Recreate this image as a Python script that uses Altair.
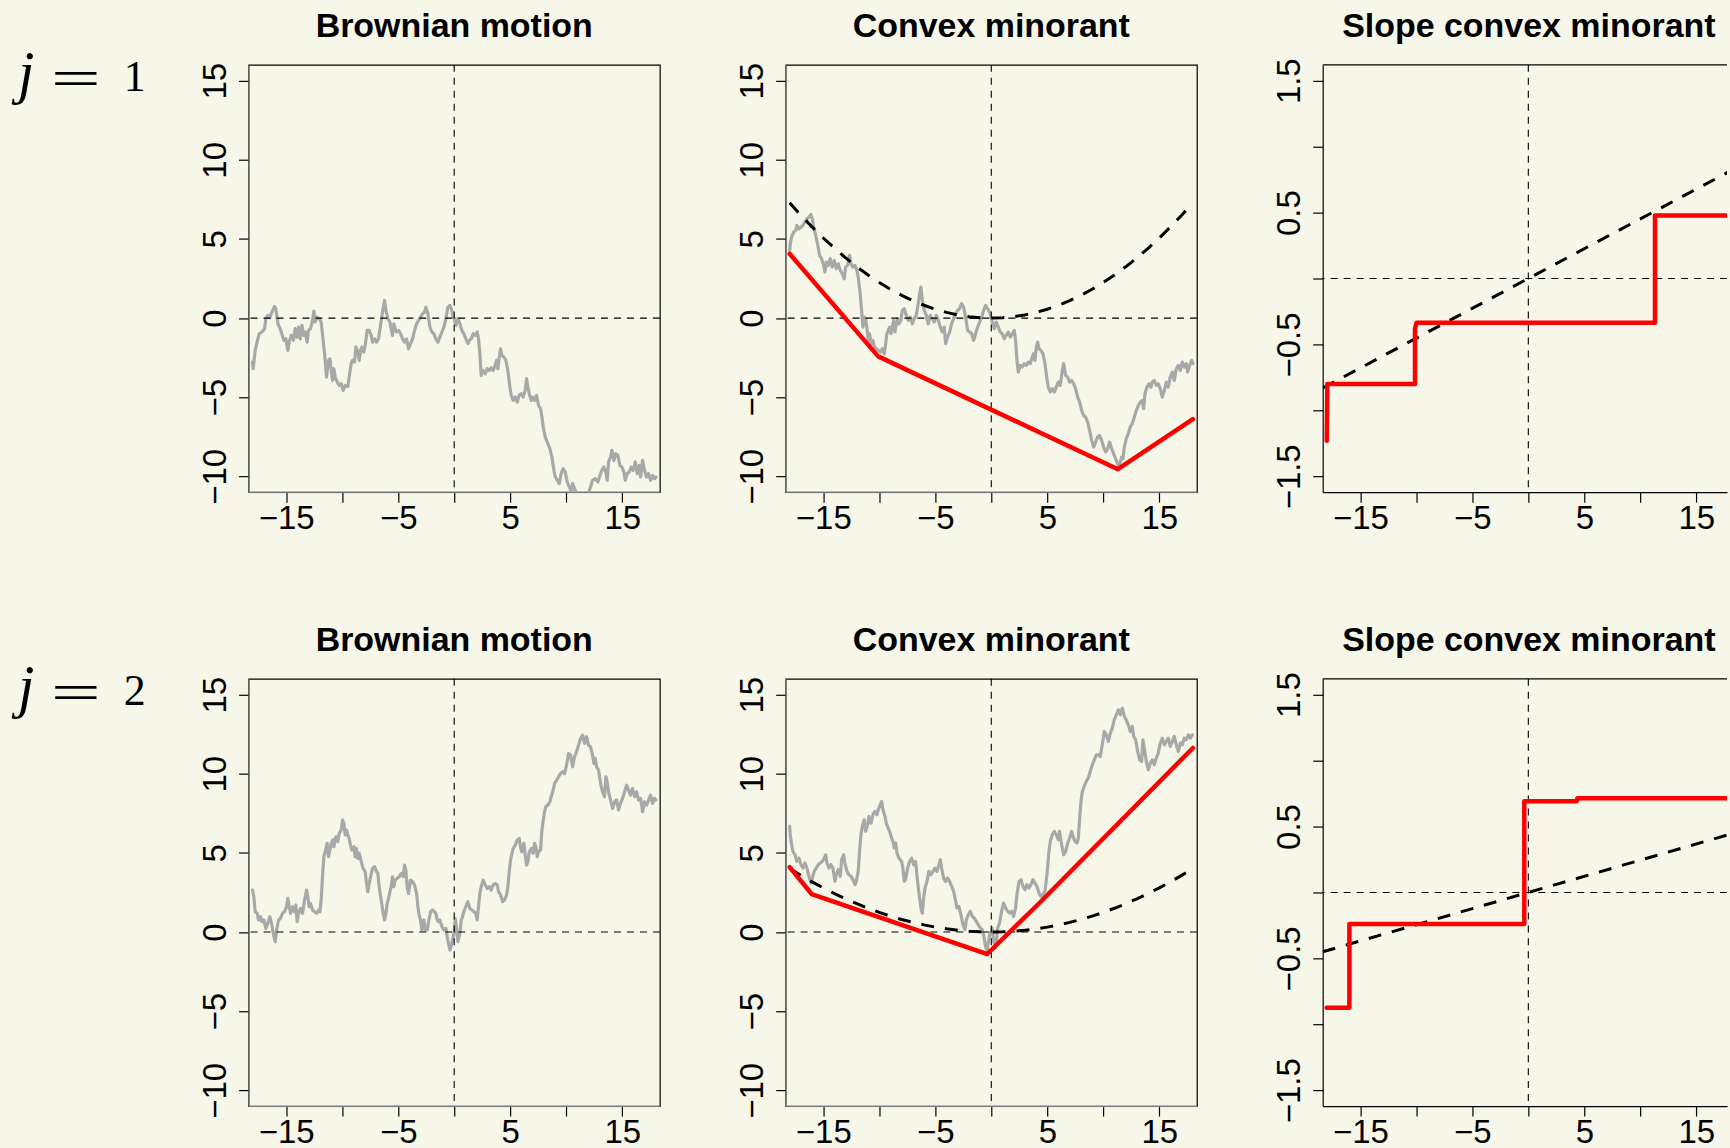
import altair as alt
import pandas as pd

# ---------------------------------------------------------------------------
# Sample path j = 1: two-sided Brownian motion W(t)
bm1_t = [-18.01,-17.95,-17.77,-17.53,-17.41,-17.17,-16.93,-16.82,-16.64,-16.46,-16.28,-16.04,-15.92,-15.74,-15.54,-15.39,-15.21,-15.03,-14.85,-14.73,-14.55,-14.35,-14.20,-14.02,-13.90,-13.75,-13.60,-13.42,-13.30,-13.13,-13.01,-12.83,-12.65,-12.53,-12.41,-12.26,-12.05,-11.88,-11.70,-11.52,-11.40,-11.22,-11.10,-10.98,-10.86,-10.74,-10.63,-10.45,-10.27,-10.09,-9.91,-9.73,-9.49,-9.38,-9.20,-9.08,-8.90,-8.78,-8.60,-8.48,-8.36,-8.24,-8.07,-7.95,-7.77,-7.59,-7.41,-7.29,-7.11,-6.93,-6.76,-6.58,-6.40,-6.22,-6.10,-5.92,-5.74,-5.63,-5.51,-5.39,-5.27,-5.15,-4.97,-4.79,-4.61,-4.43,-4.26,-4.08,-3.90,-3.72,-3.54,-3.36,-3.18,-3.01,-2.83,-2.65,-2.53,-2.35,-2.17,-1.99,-1.82,-1.64,-1.46,-1.28,-1.10,-0.92,-0.74,-0.57,-0.39,-0.21,-0.09,0.00,0.15,0.33,0.51,0.68,0.86,1.04,1.22,1.34,1.52,1.70,1.88,2.05,2.17,2.29,2.41,2.59,2.77,2.95,3.13,3.30,3.48,3.66,3.78,3.90,4.02,4.14,4.26,4.43,4.61,4.79,4.97,5.09,5.27,5.45,5.63,5.80,5.98,6.16,6.34,6.46,6.58,6.70,6.88,6.99,7.17,7.35,7.53,7.71,7.83,7.95,8.13,8.36,8.54,8.72,8.90,9.02,9.20,9.38,9.55,9.73,9.91,10.09,10.27,10.45,10.57,10.74,10.92,11.10,11.40,11.70,11.99,12.17,12.35,12.59,12.83,13.01,13.18,13.36,13.54,13.66,13.78,13.96,14.08,14.26,14.43,14.61,14.79,14.97,15.15,15.27,15.45,15.63,15.80,15.98,16.16,16.34,16.52,16.64,16.82,16.99,17.17,17.35,17.53,17.71,17.89,18.01]
bm1_w = [-2.78,-3.20,-2.04,-1.31,-0.99,-0.88,-0.67,-0.04,0.17,0.02,0.38,0.74,0.59,-0.36,-0.67,-0.99,-1.41,-1.31,-2.04,-1.52,-1.09,-1.41,-0.67,-1.20,-0.57,-1.31,-0.46,-1.09,-0.88,-1.52,-0.78,-0.67,-0.15,0.44,-0.25,0.06,-0.04,-0.25,-1.41,-2.67,-3.73,-2.67,-2.57,-3.31,-3.94,-3.20,-3.73,-4.04,-4.25,-4.15,-4.57,-4.25,-4.32,-3.73,-2.88,-2.67,-2.78,-1.83,-2.15,-2.67,-2.04,-1.83,-2.15,-1.73,-0.78,-0.78,-1.09,-1.52,-1.31,-1.52,-1.31,-0.46,0.38,1.12,0.48,-0.04,-0.25,-0.67,-1.09,-0.36,-0.67,-0.88,-0.78,-0.99,-1.31,-1.52,-1.31,-1.94,-1.62,-1.31,-0.78,-0.36,-0.15,0.06,0.27,0.38,0.69,0.27,-0.57,-0.88,-0.99,-1.31,-1.52,-1.20,-0.88,-0.57,-0.04,0.69,0.80,0.48,0.06,0.00,-0.46,-0.04,-0.36,-0.78,-0.99,-1.31,-1.62,-1.41,-1.31,-0.99,-1.09,-0.88,-1.31,-2.25,-3.62,-3.31,-3.52,-3.20,-3.31,-3.14,-3.31,-2.99,-2.67,-3.20,-2.46,-1.94,-2.36,-2.46,-2.67,-3.31,-4.36,-4.88,-5.20,-4.99,-5.31,-4.88,-4.78,-4.99,-4.57,-3.83,-4.36,-4.78,-5.20,-4.99,-5.20,-4.88,-5.52,-5.73,-6.25,-6.88,-7.52,-7.94,-8.25,-8.78,-9.62,-10.04,-10.25,-10.46,-9.83,-9.52,-9.73,-10.36,-10.67,-10.99,-10.46,-10.78,-11.09,-11.41,-11.52,-11.31,-11.09,-10.67,-10.25,-10.15,-10.36,-9.94,-9.62,-9.41,-9.73,-10.25,-9.09,-8.78,-8.36,-8.99,-8.57,-8.67,-9.31,-9.41,-9.73,-10.25,-9.83,-9.73,-9.41,-9.62,-9.09,-9.83,-9.31,-10.04,-8.99,-9.62,-10.04,-9.83,-10.25,-9.94,-10.15,-10.04]

# Same path with the parabolic drift added
cm1_t = [-18.00,-17.95,-17.83,-17.65,-17.47,-17.35,-17.17,-16.99,-16.82,-16.64,-16.46,-16.28,-16.10,-15.98,-15.86,-15.68,-15.51,-15.33,-15.15,-14.97,-14.85,-14.73,-14.55,-14.38,-14.20,-14.02,-13.84,-13.66,-13.48,-13.30,-13.13,-13.01,-12.83,-12.65,-12.53,-12.35,-12.17,-11.99,-11.88,-11.70,-11.58,-11.46,-11.34,-11.22,-11.10,-10.98,-10.86,-10.74,-10.57,-10.45,-10.27,-10.09,-9.91,-9.73,-9.55,-9.43,-9.32,-9.20,-9.08,-8.96,-8.84,-8.72,-8.60,-8.48,-8.36,-8.24,-8.07,-7.95,-7.77,-7.59,-7.41,-7.23,-7.05,-6.88,-6.70,-6.52,-6.40,-6.28,-6.16,-5.98,-5.80,-5.63,-5.45,-5.27,-5.09,-4.91,-4.73,-4.55,-4.38,-4.20,-4.08,-3.90,-3.72,-3.54,-3.36,-3.18,-3.01,-2.83,-2.65,-2.47,-2.29,-2.11,-1.93,-1.76,-1.58,-1.40,-1.22,-1.04,-0.86,-0.68,-0.51,-0.33,-0.15,0.00,0.09,0.27,0.45,0.63,0.80,0.98,1.16,1.34,1.52,1.70,1.88,2.05,2.17,2.29,2.41,2.59,2.77,2.95,3.13,3.30,3.48,3.66,3.78,3.90,4.02,4.14,4.26,4.43,4.61,4.79,4.97,5.09,5.27,5.45,5.63,5.80,5.98,6.16,6.34,6.46,6.64,6.82,6.99,7.17,7.35,7.53,7.71,7.89,8.07,8.24,8.42,8.60,8.78,8.96,9.14,9.32,9.49,9.67,9.85,10.03,10.21,10.39,10.57,10.74,10.92,11.10,11.28,11.40,11.52,11.64,11.76,11.88,12.05,12.23,12.41,12.59,12.77,12.95,13.13,13.30,13.48,13.60,13.72,13.90,14.08,14.26,14.38,14.55,14.73,14.91,15.09,15.27,15.45,15.63,15.80,15.98,16.16,16.34,16.52,16.70,16.88,17.05,17.23,17.41,17.53,17.71,17.89,18.01]
cm1_w = [4.27,4.69,5.12,5.43,5.54,5.85,5.64,5.75,5.85,6.06,6.27,6.38,6.55,6.27,5.75,5.22,4.69,3.96,3.75,3.33,2.91,3.54,3.33,3.75,3.22,3.64,3.12,3.43,3.01,2.80,2.48,3.22,3.33,3.96,3.43,3.22,3.33,3.01,2.59,1.54,0.48,-0.57,0.06,-0.04,-0.67,-1.41,-0.99,-1.62,-1.41,-1.83,-1.94,-2.04,-2.15,-1.94,-2.25,-1.62,-0.99,-0.78,-0.57,-0.99,-0.57,-0.15,-0.88,-0.36,-0.04,-0.36,-0.15,0.48,0.59,0.17,-0.15,0.06,-0.36,-0.04,0.17,0.91,1.54,1.96,1.12,0.48,0.17,-0.36,0.17,-0.04,-0.25,0.17,-0.15,-0.57,-0.88,-0.57,-1.62,-1.20,-0.88,-0.36,-0.04,0.27,0.48,0.59,0.91,0.69,0.06,-0.78,-0.88,-0.99,-1.41,-0.99,-0.57,-0.25,0.06,0.48,0.80,0.59,0.38,0.00,-0.25,-0.67,-0.25,-0.57,-0.88,-0.99,-1.31,-1.09,-0.88,-1.20,-0.99,-0.78,-1.41,-2.67,-3.41,-2.99,-3.09,-2.88,-2.99,-2.78,-2.88,-2.46,-2.25,-2.67,-1.83,-1.52,-1.94,-2.04,-2.25,-2.88,-3.83,-4.36,-4.67,-4.46,-4.67,-4.36,-4.04,-4.25,-3.31,-2.88,-3.62,-3.73,-4.04,-3.94,-4.15,-4.46,-4.99,-5.31,-5.83,-6.15,-6.25,-6.57,-7.09,-7.73,-8.15,-7.83,-7.52,-7.41,-7.73,-8.15,-8.46,-8.25,-7.83,-8.25,-8.57,-8.88,-9.20,-9.41,-9.09,-8.78,-8.88,-8.15,-7.62,-7.31,-6.88,-6.67,-6.25,-5.83,-5.52,-5.31,-5.20,-5.73,-4.78,-4.36,-4.15,-4.36,-4.04,-3.94,-4.25,-4.15,-4.46,-4.99,-4.57,-4.04,-4.36,-3.73,-3.41,-3.94,-3.20,-2.99,-3.31,-2.78,-3.09,-2.88,-3.41,-2.99,-2.67,-2.88]

# Convex minorant (knots) and its slope
hull1_t = [-18.0, -10.1, 11.3, 18.0]
hull1_y = [4.06, -2.42, -9.55, -6.38]
slope1_t = [-18.0, -17.95, -10.12, -10.12, -9.98, 11.31, 11.31, 18.0]
slope1_y = [-1.23, -0.80, -0.80, -0.38, -0.336, -0.336, 0.477, 0.477]

# ---------------------------------------------------------------------------
# Sample path j = 2
bm2_t = [-18.01,-17.89,-17.77,-17.59,-17.47,-17.29,-17.17,-16.99,-16.82,-16.64,-16.46,-16.28,-16.10,-15.98,-15.86,-15.68,-15.51,-15.33,-15.15,-14.97,-14.85,-14.73,-14.61,-14.43,-14.26,-14.14,-14.02,-13.90,-13.72,-13.54,-13.36,-13.18,-13.07,-12.95,-12.83,-12.65,-12.47,-12.29,-12.11,-11.99,-11.88,-11.76,-11.64,-11.52,-11.34,-11.22,-11.10,-10.98,-10.86,-10.74,-10.63,-10.51,-10.39,-10.27,-10.09,-9.97,-9.85,-9.73,-9.61,-9.49,-9.38,-9.26,-9.14,-8.96,-8.84,-8.72,-8.60,-8.48,-8.30,-8.13,-7.95,-7.83,-7.71,-7.59,-7.47,-7.29,-7.11,-6.93,-6.82,-6.70,-6.52,-6.34,-6.22,-6.10,-5.98,-5.86,-5.74,-5.63,-5.51,-5.39,-5.27,-5.09,-4.91,-4.73,-4.55,-4.43,-4.32,-4.20,-4.08,-3.90,-3.72,-3.54,-3.36,-3.24,-3.13,-3.01,-2.89,-2.71,-2.59,-2.41,-2.29,-2.11,-1.93,-1.76,-1.64,-1.52,-1.40,-1.28,-1.10,-0.92,-0.74,-0.63,-0.51,-0.39,-0.27,-0.15,0.00,0.09,0.21,0.33,0.51,0.63,0.74,0.86,1.04,1.22,1.40,1.58,1.76,1.93,2.05,2.17,2.29,2.41,2.59,2.77,2.95,3.13,3.30,3.48,3.66,3.84,3.96,4.14,4.32,4.49,4.67,4.79,4.91,5.03,5.15,5.27,5.45,5.63,5.80,5.92,6.04,6.22,6.34,6.46,6.58,6.70,6.88,7.05,7.17,7.29,7.41,7.53,7.71,7.83,7.95,8.07,8.18,8.36,8.54,8.66,8.84,8.96,9.14,9.32,9.49,9.67,9.85,10.03,10.21,10.39,10.57,10.74,10.92,11.10,11.28,11.46,11.64,11.82,11.99,12.17,12.35,12.47,12.59,12.71,12.89,13.07,13.24,13.42,13.54,13.66,13.78,13.96,14.14,14.32,14.49,14.67,14.85,15.03,15.21,15.39,15.57,15.74,15.92,16.10,16.28,16.46,16.64,16.82,16.99,17.17,17.35,17.53,17.71,17.89,18.01]
bm2_w = [2.65,2.23,1.28,1.18,0.76,0.97,0.65,0.76,0.23,0.55,0.97,0.44,-0.29,-0.61,0.13,0.76,0.86,1.18,1.28,1.60,2.13,1.60,1.18,1.60,1.28,1.71,0.65,1.18,1.49,1.18,2.02,2.65,2.23,1.60,1.81,1.39,1.28,1.18,1.39,1.28,2.02,3.49,4.76,5.07,5.60,4.76,5.18,5.60,5.81,5.39,5.92,6.02,5.71,6.23,6.44,7.07,6.86,6.13,6.44,6.13,5.92,5.49,5.18,5.39,4.76,5.28,4.65,4.97,4.44,4.02,3.81,3.07,2.55,3.07,3.49,4.02,4.13,3.81,3.71,2.86,2.02,1.18,0.76,1.18,1.81,2.13,2.55,2.86,3.49,2.86,3.28,3.39,3.49,3.71,3.49,4.23,3.92,2.86,2.44,3.28,3.18,2.97,2.44,1.60,1.07,0.76,0.13,0.76,0.13,0.13,0.65,1.28,1.39,1.28,1.18,0.76,0.65,0.76,0.34,0.13,0.23,-0.29,-0.72,-1.14,-0.93,-0.51,0.00,0.86,0.23,-0.61,-0.08,0.76,0.97,1.28,1.60,1.92,1.49,1.39,1.28,1.18,0.76,1.60,2.44,2.86,3.28,2.97,2.76,2.86,2.65,2.97,3.07,2.97,2.55,2.34,1.92,2.02,2.34,2.86,3.81,4.55,4.97,5.28,5.49,5.81,5.92,5.39,5.07,5.60,4.86,4.23,4.44,5.07,5.28,4.97,5.60,5.39,4.76,5.07,5.18,6.44,7.07,7.60,7.92,8.02,8.23,8.55,8.97,9.39,9.60,9.81,10.02,10.13,10.02,10.55,11.28,11.18,10.44,11.07,11.39,11.81,12.23,12.44,11.92,12.34,11.81,11.71,11.18,10.65,10.97,10.44,10.23,9.39,8.86,8.55,9.81,9.49,8.86,8.34,7.81,8.23,8.34,7.71,8.13,8.44,8.86,9.28,8.97,8.65,9.07,8.55,8.86,8.34,8.44,7.60,8.23,8.02,8.34,8.65,8.13,8.44,8.34]

cm2_t = [-18.00,-17.95,-17.83,-17.71,-17.53,-17.35,-17.17,-16.99,-16.82,-16.64,-16.46,-16.28,-16.10,-15.98,-15.80,-15.63,-15.45,-15.27,-15.09,-14.91,-14.79,-14.67,-14.49,-14.32,-14.14,-13.96,-13.84,-13.66,-13.48,-13.36,-13.18,-13.07,-12.89,-12.71,-12.53,-12.35,-12.17,-12.05,-11.88,-11.76,-11.64,-11.52,-11.34,-11.22,-11.04,-10.92,-10.74,-10.57,-10.39,-10.21,-10.09,-9.91,-9.79,-9.67,-9.49,-9.38,-9.20,-9.08,-8.90,-8.78,-8.66,-8.54,-8.42,-8.24,-8.01,-7.89,-7.77,-7.65,-7.47,-7.29,-7.11,-6.93,-6.76,-6.58,-6.40,-6.28,-6.16,-6.04,-5.92,-5.74,-5.57,-5.39,-5.21,-5.03,-4.85,-4.67,-4.55,-4.43,-4.26,-4.08,-3.90,-3.72,-3.54,-3.36,-3.18,-3.07,-2.89,-2.71,-2.53,-2.35,-2.23,-2.05,-1.88,-1.70,-1.52,-1.34,-1.16,-0.98,-0.80,-0.63,-0.51,-0.39,-0.27,-0.15,0.00,0.09,0.21,0.39,0.57,0.74,0.92,1.10,1.28,1.46,1.64,1.82,1.99,2.17,2.29,2.47,2.65,2.83,3.01,3.18,3.36,3.54,3.72,3.90,4.08,4.26,4.43,4.61,4.79,4.97,5.15,5.27,5.45,5.63,5.80,5.98,6.10,6.28,6.46,6.64,6.82,6.99,7.17,7.29,7.47,7.65,7.77,7.89,8.01,8.13,8.30,8.48,8.66,8.84,9.02,9.20,9.38,9.55,9.73,9.91,10.09,10.27,10.45,10.63,10.80,10.98,11.16,11.34,11.52,11.70,11.88,12.05,12.23,12.41,12.59,12.71,12.89,13.07,13.24,13.42,13.54,13.66,13.84,14.02,14.20,14.38,14.55,14.73,14.91,15.09,15.27,15.45,15.63,15.80,15.98,16.16,16.34,16.52,16.70,16.88,17.05,17.23,17.41,17.59,17.77,17.95]
cm2_w = [6.67,6.15,5.52,5.09,4.88,4.46,4.67,4.25,4.04,4.36,4.04,3.52,3.09,3.41,3.83,4.04,4.25,4.36,4.46,4.67,4.88,4.36,4.04,4.25,4.04,3.20,3.62,3.94,3.52,4.57,4.88,4.36,3.83,3.62,3.52,3.31,2.99,3.20,3.83,5.09,6.15,6.67,7.09,6.36,6.78,7.31,6.88,7.41,7.62,7.41,7.73,8.04,8.25,7.73,7.31,6.88,6.57,6.36,5.94,5.73,5.31,5.62,4.99,4.67,4.46,4.04,3.20,3.31,4.04,4.46,4.67,4.25,4.46,3.20,2.15,1.52,1.20,2.15,2.78,3.20,3.83,3.62,3.83,4.04,3.83,4.25,4.57,4.04,3.41,3.20,3.41,3.20,2.88,2.57,1.94,1.52,1.62,1.09,0.46,0.15,0.78,1.09,1.31,0.99,0.88,0.67,0.46,0.25,0.15,-0.38,-0.91,-1.22,-0.69,-0.17,0.00,0.25,-0.59,-1.01,0.25,0.57,1.31,1.83,1.52,1.31,1.20,1.31,0.99,1.52,2.36,3.20,3.31,2.88,2.67,2.99,2.78,2.99,3.31,3.09,2.88,2.46,2.25,2.36,2.57,3.62,5.09,5.73,6.15,6.36,6.15,5.83,6.36,5.52,4.88,5.09,5.62,5.94,6.36,6.04,5.73,5.62,5.94,7.20,8.25,8.88,9.20,9.52,9.73,10.15,10.57,10.88,11.20,11.20,11.09,11.83,12.67,12.46,12.04,12.57,12.88,13.41,13.73,14.04,13.73,14.15,13.62,13.41,13.09,12.67,12.99,12.36,12.15,11.41,10.88,10.78,12.15,11.62,10.78,10.25,10.67,10.88,10.57,10.99,11.31,11.94,12.25,11.83,12.04,12.25,11.73,12.04,12.36,11.83,11.41,11.94,11.83,12.25,12.15,12.46,12.25,12.46]

hull2_t = [-18.0, -16.04, -0.36, 4.32, 18.0]
hull2_y = [4.10, 2.40, -1.39, 1.85, 11.63]
slope2_t = [-18.0, -15.98, -15.98, -0.36, -0.36, 4.32, 4.38, 18.0]
slope2_y = [-0.874, -0.874, -0.239, -0.239, 0.692, 0.692, 0.715, 0.715]

# ---------------------------------------------------------------------------
# Drift parabolas (dashed) and their derivatives
drift_t = [-18,-17,-16,-15,-14,-13,-12,-11,-10,-9,-8,-7,-6,-5,-4,-3,-2,-1,0,1,2,3,4,5,6,7,8,9,10,11,12,13,14,15,16,17,18]
drift1 = [7.29,6.50,5.76,5.06,4.41,3.80,3.24,2.72,2.25,1.82,1.44,1.10,0.81,0.56,0.36,0.20,0.09,0.02,0.00,0.02,0.09,0.20,0.36,0.56,0.81,1.10,1.44,1.82,2.25,2.72,3.24,3.80,4.41,5.06,5.76,6.50,7.29]
drift2 = [4.02,3.58,3.17,2.79,2.43,2.10,1.79,1.50,1.24,1.00,0.79,0.61,0.45,0.31,0.20,0.11,0.05,0.01,0.00,0.01,0.05,0.11,0.20,0.31,0.45,0.61,0.79,1.00,1.24,1.50,1.79,2.10,2.43,2.79,3.17,3.58,4.02]
deriv_t = [-18.36, 18.36]
deriv1 = [-0.83, 0.83]
deriv2 = [-0.45, 0.45]

# Axis ticks and panel titles
x_ticks = [-15, -10, -5, 0, 5, 10, 15]
path_ticks = [-10, -5, 0, 5, 10, 15]
slope_ticks = [-1.5, -1.0, -0.5, 0.0, 0.5, 1.0, 1.5]
titles = ["Brownian motion", "Convex minorant", "Slope convex minorant"]
row_ids = ["1", "2"]

# ---------------------------------------------------------------------------
BG = "#F7F7E9"
SANS = "Liberation Sans"
SERIF = "Liberation Serif"
GRAY = "#A8A8A8"
RED = "#FF0000"

X_FULL = [-18.36, 18.36]
X_CUT = [-18.36, 17.74]
Y_PATH = [-11, 16]
Y_SLOPE = [-1.62, 1.62]
PW, PW3, PH = 412, 405, 428

TICK = dict(ticks=True, tickSize=10, tickColor="black", tickWidth=1.2, grid=False,
            labelFont=SANS, labelFontSize=33, labelColor="black",
            labelOverlap=False, labelFlush=False, title=None)


def x_axis(**extra):
    return alt.Axis(values=x_ticks, format="d",
                    labelExpr="datum.value % 10 == 0 ? '' : datum.label",
                    labelPadding=0, **TICK, **extra)


def y_axis(values, fmt, expr, **extra):
    return alt.Axis(values=values, format=fmt, labelExpr=expr, labelAngle=270,
                    labelAlign="center", labelBaseline="alphabetic",
                    labelPadding=13.5, **TICK, **extra)


def xs(domain, axis):
    return alt.X("t:Q", scale=alt.Scale(domain=domain, nice=False, zero=False), axis=axis)


def ys(domain, axis):
    return alt.Y("y:Q", scale=alt.Scale(domain=domain, nice=False, zero=False), axis=axis)


def df(t, y):
    return pd.DataFrame({"t": t, "y": y, "i": list(range(len(t)))})


def title(text, offset, dx=0):
    # the offset is counted from the outer edge of the rotated y labels
    return alt.TitleParams(text=text, font=SANS, fontSize=34, fontWeight="bold",
                           color="black", offset=offset, baseline="alphabetic",
                           anchor="middle", frame="group", dx=dx)


def path_line(data, x, y, color, width, dash=None):
    kw = dict(color=color, strokeWidth=width, clip=True, strokeJoin="round")
    if dash:
        kw.update(strokeDash=dash, strokeCap="butt")
    else:
        kw.update(strokeCap="round")
    return alt.Chart(data).mark_line(**kw).encode(x=x, y=y, order=alt.Order("i:Q"))


def zero_rules(x, y):
    v = alt.Chart(pd.DataFrame({"t": [0]})).mark_rule(
        color="black", strokeWidth=1.1, strokeDash=[7, 6]).encode(x=x)
    h = alt.Chart(pd.DataFrame({"y": [0]})).mark_rule(
        color="black", strokeWidth=1.1, strokeDash=[7, 6]).encode(y=y)
    return v, h


def path_y():
    return ys(Y_PATH, y_axis(path_ticks, "d", "datum.label"))


def bm_panel(t, w):
    x, y = xs(X_FULL, x_axis()), path_y()
    v, h = zero_rules(x, y)
    g = path_line(df(t, w), x, y, GRAY, 3.2)
    return alt.layer(g, v, h).properties(
        width=PW, height=PH, title=title(titles[0], -8.5),
        view=alt.ViewBackground(stroke="black", strokeWidth=1.2))


def hull_panel(t, w, dr, ht, hy):
    x, y = xs(X_FULL, x_axis()), path_y()
    v, h = zero_rules(x, y)
    g = path_line(df(t, w), x, y, GRAY, 3.2)
    d = path_line(df(drift_t, dr), x, y, "black", 3, dash=[13, 11])
    r = path_line(df(ht, hy), x, y, RED, 4.5)
    return alt.layer(g, v, h, d, r).properties(
        width=PW, height=PH, title=title(titles[1], -8.5),
        view=alt.ViewBackground(stroke="black", strokeWidth=1.2))


def slope_panel(st, sy, dv):
    # the right-hand side of this panel runs off the page, so the frame is
    # drawn from the axis domains plus a rule along the top of the y range
    frame = dict(domain=True, domainColor="black", domainWidth=1.2)
    x = xs(X_CUT, x_axis(**frame))
    y = ys(Y_SLOPE, y_axis(slope_ticks, ".1f",
                           "abs(datum.value) == 0.5 || abs(datum.value) == 1.5 ? datum.label : ''",
                           **frame))
    v, h = zero_rules(x, y)
    top = alt.Chart(pd.DataFrame({"y": [Y_SLOPE[1]]})).mark_rule(
        color="black", strokeWidth=1.2).encode(y=y)
    d = path_line(df(deriv_t, dv), x, y, "black", 3, dash=[13, 11])
    r = path_line(df(st, sy), x, y, RED, 4.5)
    return alt.layer(v, h, top, d, r).properties(
        width=PW3, height=PH, title=title(titles[2], -13, dx=4),
        view=alt.ViewBackground(stroke="transparent"))


def row_label(num):
    base = alt.Chart(pd.DataFrame({"s": ["j"], "eq": ["="], "n": [num]}))
    j = base.mark_text(font=SERIF, fontStyle="italic", fontSize=59, align="left",
                       baseline="alphabetic", color="black").encode(
        x=alt.value(4), y=alt.value(27), text="s:N")
    eq = base.mark_text(font="DejaVu Sans", fontWeight=200, fontSize=66, align="center",
                        baseline="alphabetic", color="black").encode(
        x=alt.value(62), y=alt.value(34), text="eq:N")
    n = base.mark_text(font=SERIF, fontSize=44, align="center",
                       baseline="alphabetic", color="black").encode(
        x=alt.value(121), y=alt.value(26), text="n:N")
    return alt.layer(j, eq, n).properties(
        width=109, height=PH, view=alt.ViewBackground(stroke="transparent"))


cells = [
    row_label(row_ids[0]), bm_panel(bm1_t, bm1_w),
    hull_panel(cm1_t, cm1_w, drift1, hull1_t, hull1_y),
    slope_panel(slope1_t, slope1_y, deriv1),
    row_label(row_ids[1]), bm_panel(bm2_t, bm2_w),
    hull_panel(cm2_t, cm2_w, drift2, hull2_t, hull2_y),
    slope_panel(slope2_t, slope2_y, deriv2),
]

chart = alt.concat(*cells, columns=4, spacing={"row": 187, "column": 126},
                   bounds="flush").properties(
    padding={"left": 13, "top": 8, "right": 1, "bottom": 0},
    background=BG,
)

chart.save("out.html", embed_options={"renderer": "svg", "actions": False})
